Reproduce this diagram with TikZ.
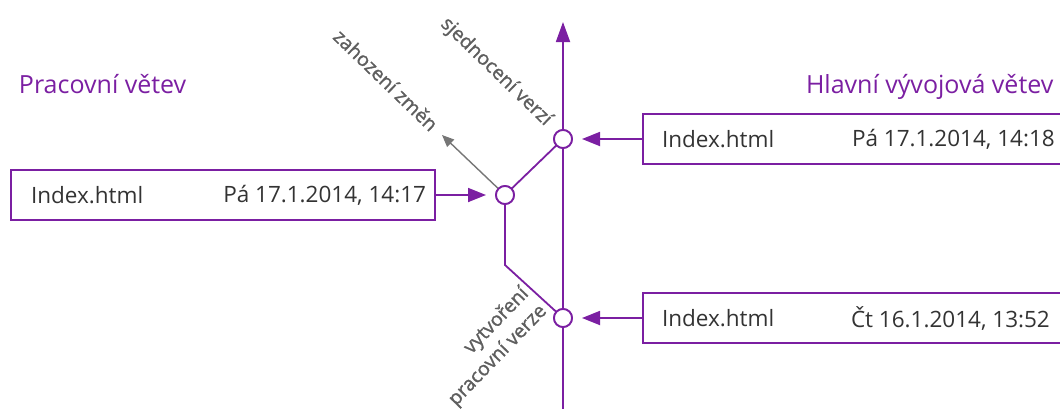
\documentclass[tikz,border=0pt]{standalone}
\usepackage{fontspec}
\setmainfont{Open Sans}
\newfontfamily\lblfont[FakeBold=1.2]{Open Sans}
\usetikzlibrary{arrows.meta}
\definecolor{vio}{HTML}{7B1FA2}
\definecolor{lbl}{HTML}{5E5E5E}
\definecolor{txt}{HTML}{333333}
\tikzset{
  every node/.style={inner sep=0pt, outer sep=0pt},
  filebox/.style={draw=vio, line width=1.8pt, minimum height=50pt, anchor=west},
  ftext/.style={font=\fontsize{22.5}{26}\selectfont, text=txt},
  title/.style={font=\fontsize{25}{28}\selectfont, text=vio, anchor=base west},
  glabel/.style={font=\lblfont\fontsize{19.5}{25}\selectfont, text=lbl},
  vline/.style={draw=vio, line width=1.8pt},
  varrow/.style={draw=vio, line width=1.8pt, -{Triangle[length=18pt,width=14pt]}, shorten >=10pt},
  commit/.style={circle, draw=vio, fill=white, line width=1.8pt, minimum size=18pt},
}
\begin{document}
\begin{tikzpicture}[x=1pt,y=-1pt]
\clip (0,0) rectangle (1060,408);
\useasboundingbox (0,0) rectangle (1060,408);

% titles
\node[title] (t1) at (19,93) {Pracovní větev};
\node[title, anchor=base west] (t2) at (806,93) {Hlavní vývojová větev};

% main line
\coordinate (mbot) at (563,410);
\coordinate (mtop) at (563,22);
\draw[vio, line width=1.8pt, -{Triangle[length=20pt,width=14pt]}] (mbot) -- (mtop);

% commits
\node[commit] (ctop) at (563,139) {};
\node[commit] (cbot) at (563,318) {};
\node[commit] (cl) at (505,195) {};
\coordinate (corner) at (505,265);

% branch lines
\draw[vline] (cl) -- (ctop);
\draw[vline] (cl.south) -- (corner) -- (cbot);

% gray discard arrow
\coordinate (disc) at (442,135);
\draw[lbl!85!white, line width=1.4pt, -{Triangle[length=12pt,width=10pt]}] (cl) -- (disc);
\node[commit] at (cl) {};
\node[commit] at (ctop) {};
\node[commit] at (cbot) {};

% boxes
\node[filebox, minimum width=424pt] (bl) at (11,195) {};
\node[filebox, minimum width=430pt] (br1) at (643,139) {};
\node[filebox, minimum width=430pt] (br2) at (643,318) {};

\node[ftext, anchor=west] (bl1) at (31,195) {Index.html};
\node[ftext, anchor=east] (bl2) at (426,195) {Pá 17.1.2014, 14:17};
\node[ftext, anchor=west] (br1a) at (662,139) {Index.html};
\node[ftext, anchor=west] (br1b) at (852,139) {Pá 17.1.2014, 14:18};
\node[ftext, anchor=west] (br2a) at (662,318) {Index.html};
\node[ftext, anchor=west] (br2b) at (851,318) {Čt 16.1.2014, 13:52};

% arrows into commits
\draw[varrow] (bl.east) -- (cl);
\draw[varrow] (br1.west) -- (ctop);
\draw[varrow] (br2.west) -- (cbot);

% rotated labels
\node[glabel, rotate=-44] (lz) at (386,80) {zahození změn};
\node[glabel, rotate=-44] (ls) at (496,72) {sjednocení verzí};
\node[glabel, rotate=46, align=right] (lv) at (489,347) {vytvoření\\pracovní verze};
\end{tikzpicture}
\end{document}
